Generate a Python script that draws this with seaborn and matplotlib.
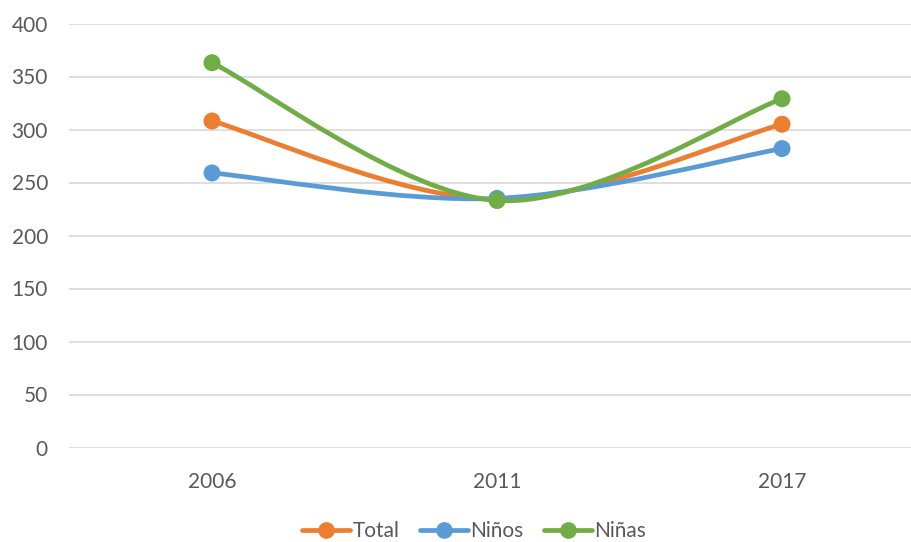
import numpy as np
import pandas as pd
import matplotlib
matplotlib.use("Agg")
import matplotlib.pyplot as plt
from matplotlib.path import Path
from matplotlib.patches import PathPatch
from matplotlib.lines import Line2D
import seaborn as sns

years = ["2006", "2011", "2017"]
total = [308, 234, 305]
ninos = [259, 235, 282]
ninas = [363, 233, 329]

series_names = ["Total", "Niños", "Niñas"]
colors = {"Total": "#ED7D31", "Niños": "#5B9BD5", "Niñas": "#70AD47"}

df = pd.DataFrame({
    "pos": list(range(len(years))) * 3,
    "value": total + ninos + ninas,
    "serie": [s for s in series_names for _ in years],
})

sns.set_style("white")
plt.rcParams["font.family"] = ["Lato", "DejaVu Sans"]
text_color = "#595959"


def smooth_path(xs, ys):
    # Catmull-Rom style bezier, like Excel's "smoothed line"
    pts = np.column_stack([xs, ys]).astype(float)
    ext = np.vstack([pts[0], pts, pts[-1]])
    verts = [pts[0]]
    codes = [Path.MOVETO]
    for i in range(len(pts) - 1):
        p0, p1, p2, p3 = ext[i], ext[i + 1], ext[i + 2], ext[i + 3]
        c1 = p1 + (p2 - p0) / 6.0
        c2 = p2 - (p3 - p1) / 6.0
        verts += [c1, c2, p2]
        codes += [Path.CURVE4] * 3
    return Path(verts, codes)


fig = plt.figure(figsize=(9.12, 5.42), dpi=100)
ax = fig.add_axes([69.5 / 912, (542 - 447.5) / 542, (912 - 69.5) / 912, 424 / 542])

for name in series_names:
    sub = df[df["serie"] == name]
    patch = PathPatch(smooth_path(sub["pos"], sub["value"]), facecolor="none",
                      edgecolor=colors[name], lw=3.4, capstyle="round", joinstyle="round")
    ax.add_patch(patch)
    sns.scatterplot(data=sub, x="pos", y="value", color=colors[name], s=150,
                    edgecolor="none", ax=ax, zorder=3, legend=False)

ax.set_xlim(-0.5, 2.456)
ax.set_ylim(0, 400)
ax.set_yticks(range(0, 401, 50))
ax.set_xticks(range(len(years)))
ax.set_xticklabels(years)
ax.set_xlabel("")
ax.set_ylabel("")
ax.grid(axis="y", color="#D9D9D9", lw=1.2)
ax.set_axisbelow(True)
for s in ax.spines.values():
    s.set_visible(False)
ax.tick_params(axis="both", length=0, labelsize=15, colors=text_color)
ax.tick_params(axis="y", pad=15.5)
ax.tick_params(axis="x", pad=18)

handles = [Line2D([0], [0], color=colors[n], lw=3.4, marker="o", markersize=11) for n in series_names]
leg = fig.legend(handles, series_names, loc="center", bbox_to_anchor=(0.52, 0.02),
                 ncol=3, frameon=False, fontsize=15, handlelength=2.3,
                 handletextpad=0.1, columnspacing=1.0)
for t in leg.get_texts():
    t.set_color(text_color)

fig.savefig("out.png", dpi=100)
